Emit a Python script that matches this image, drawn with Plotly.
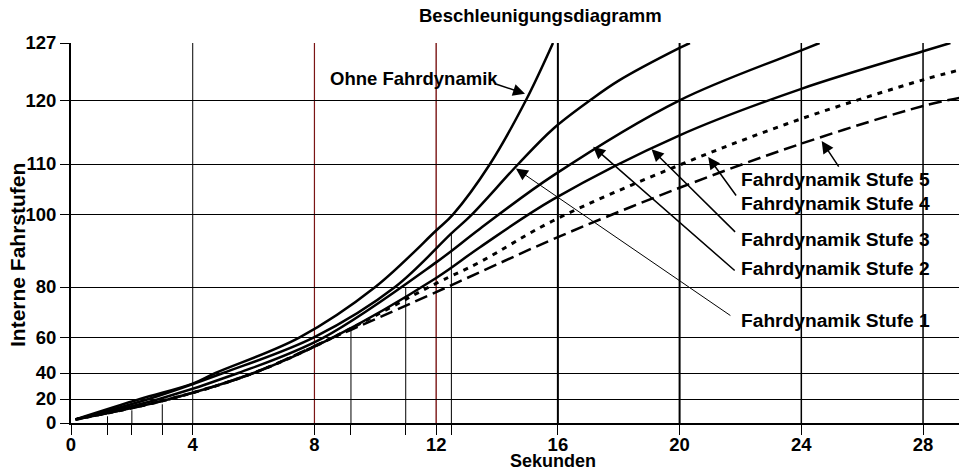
import numpy as np
import plotly.graph_objects as go

# ---------------- data ----------------
X_TICKS = [0, 4, 8, 12, 16, 20, 24, 28]
Y_TICKS = [0, 20, 40, 60, 80, 100, 110, 120, 127]
Y_TICK_TEXT = ["0", "20", "40", "60", "80", "100", "110", "120", "127"]
# non-linear y scale of the original chart: axis units assigned to each tick value
Y_SCALE = [0, 24.0, 50.0, 85.4, 136.0, 208.4, 259.0, 322.7, 380.0]

ohne_t = [0.15, 2.27, 4.0, 4.75, 7.5, 10.0, 12.0, 12.55, 13.77, 14.95, 15.84]
ohne_v = [3, 20, 31.8, 40, 60, 80, 95.6, 100, 110, 120, 127]

s1_t = [0.15, 2.55, 5.0, 8.0, 10.65, 12.5, 13.17, 14.7, 15.84, 17.06, 18.0, 20.0, 20.34]
s1_v = [3, 20, 40, 60.2, 80, 94.8, 100, 110, 115.5, 120, 122.4, 126.4, 127]

s2_t = [0.15, 2.9, 5.5, 8.3, 12.0, 13.44, 15.84, 20.0, 24.0, 24.6]
s2_v = [3, 20, 40, 60, 86.8, 96.1, 107.7, 120.0, 126.1, 127]

s3_t = [0.15, 3.25, 6.0, 8.6, 12.0, 13.44, 15.84, 20.0, 24.0, 28.0, 28.9]
s3_v = [3, 20, 40, 60, 82.5, 91.0, 103.0, 114.5, 121.4, 126.0, 127]

s4_t = [0.15, 3.25, 6.0, 8.6, 12.0, 13.44, 15.84, 20.0, 24.0, 28.0, 29.2]
s4_v = [3, 20, 40, 60, 81.0, 86.9, 98.3, 109.8, 117.1, 122.5, 123.7]

s5_t = [0.15, 3.25, 6.0, 8.6, 9.17, 12.0, 13.44, 15.84, 20.0, 24.0, 28.0, 29.2]
s5_v = [3, 20, 40, 60, 62.9, 78.0, 84.1, 93.2, 105.3, 113.2, 119.1, 120.3]

# drop lines from curves to the time axis
drop_t = [1.2, 2.0, 3.0, 9.2, 11.0, 12.5]
drop_v = [5.6, 10.6, 15.6, 62.9, 79.9, 94.8]

labels = ["Ohne Fahrdynamik", "Fahrdynamik Stufe 1", "Fahrdynamik Stufe 2",
          "Fahrdynamik Stufe 3", "Fahrdynamik Stufe 4", "Fahrdynamik Stufe 5"]
# arrow tip positions (time, Fahrstufe) on each curve
arrow_t = [14.92, 14.62, 17.16, 19.08, 20.94, 24.67]
arrow_v = [120.8, 109.1, 112.7, 112.3, 111.1, 113.6]


def ys(v):
    return np.interp(v, Y_TICKS, Y_SCALE)


FONT = dict(family="Liberation Sans, Arial, sans-serif", size=18.5, color="black", weight="bold")

fig = go.Figure()

series = [
    (ohne_t, ohne_v, "solid", 2.5),
    (s1_t, s1_v, "solid", 2.5),
    (s2_t, s2_v, "solid", 2.5),
    (s3_t, s3_v, "solid", 2.5),
    (s4_t, s4_v, "5px,6px", 3),
    (s5_t, s5_v, "13px,6px", 2.5),
]
for (t, v, dash, w), name in zip(series, labels):
    fig.add_trace(go.Scatter(x=t, y=ys(v), mode="lines", name=name,
                             line=dict(color="black", width=w, dash=dash, shape="spline", smoothing=1.0),
                             showlegend=False, hoverinfo="skip"))

shapes = []
grid_style = {4: ("black", 1), 8: ("#7a1414", 1.2), 12: ("#7a1414", 1.4),
              16: ("black", 2), 20: ("black", 2), 24: ("black", 1.5), 28: ("black", 1.5)}
for t in X_TICKS[1:]:
    c, w = grid_style[t]
    shapes.append(dict(type="line", xref="x", yref="paper", x0=t, x1=t, y0=0, y1=1,
                       line=dict(color=c, width=w), layer="below"))
for t, v in zip(drop_t, drop_v):
    shapes.append(dict(type="line", xref="x", yref="y", x0=t, x1=t, y0=0, y1=float(ys(v)),
                       line=dict(color="black", width=1), layer="below"))

annotations = []
# arrows
offsets = [(-30, -10), (216, 148), (143, 125), (85, 84), (29, 40), (18, 27)]
widths = [1.5, 1, 1.5, 1.5, 1.5, 1.5]
for t, v, (ax, ay), w in zip(arrow_t, arrow_v, offsets, widths):
    annotations.append(dict(x=t, y=float(ys(v)), xref="x", yref="y", text="", showarrow=True,
                            ax=ax, ay=ay, arrowhead=2, arrowsize=2.4 / w, arrowwidth=w,
                            arrowcolor="black", standoff=0))
# label texts (paper pixel placement)
W, H = 959, 472
L, R, T, B = 71, 0, 43, 49
pw, ph = W - L - R, H - T - B


def px(x, y):
    return (x - L) / pw, (H - B - y) / ph


label_pos = [(328, 79, 18.5), (739, 320, 19.2), (739, 268, 19.2), (739, 240, 19.2),
             (739, 203, 19.2), (739, 179, 19.2)]
for name, (x, y, fs) in zip(labels, label_pos):
    xx, yy = px(x, y)
    annotations.append(dict(x=xx, y=yy, xref="paper", yref="paper", text=name, showarrow=False,
                            xanchor="left", yanchor="middle", font=dict(FONT, size=fs)))

# titles
xx, yy = px(540, 16)
annotations.append(dict(x=xx, y=yy, xref="paper", yref="paper", text="Beschleunigungsdiagramm",
                        showarrow=False, xanchor="center", yanchor="middle", font=FONT))
xx, yy = px(553, 461)
annotations.append(dict(x=xx, y=yy, xref="paper", yref="paper", text="Sekunden",
                        showarrow=False, xanchor="center", yanchor="middle",
                        font=dict(FONT, size=18), borderpad=0))
xx, yy = px(18, 255)
annotations.append(dict(x=xx, y=yy, xref="paper", yref="paper", text="Interne Fahrstufen",
                        showarrow=False, xanchor="center", yanchor="middle", textangle=-90,
                        font=dict(FONT, size=21)))

fig.update_layout(
    width=W, height=H,
    margin=dict(l=L, r=R, t=T, b=B, pad=0),
    paper_bgcolor="white", plot_bgcolor="white",
    shapes=shapes, annotations=annotations,
    xaxis=dict(range=[0, pw / 30.43], tickmode="array", tickvals=X_TICKS,
               ticks="outside", ticklen=10, tickcolor="black", tickwidth=1,
               showgrid=False, zeroline=False, showline=True, linecolor="black", linewidth=2,
               tickfont=FONT, ticklabelstandoff=-6,
               minor=dict(tickmode="array", tickvals=drop_t, ticks="outside", ticklen=10,
                          tickcolor="black", tickwidth=1, showgrid=False)),
    yaxis=dict(range=[0, 380], tickmode="array", tickvals=Y_SCALE, ticktext=Y_TICK_TEXT,
               ticks="outside", ticklen=9, tickcolor="black", tickwidth=1,
               showgrid=True, gridcolor="black", gridwidth=1, zeroline=False,
               showline=True, linecolor="black", linewidth=2, tickfont=FONT),
)

fig.write_html("out.html", config={"displayModeBar": False},
               post_script="document.body.style.margin='0px';document.body.style.overflow='hidden';")
